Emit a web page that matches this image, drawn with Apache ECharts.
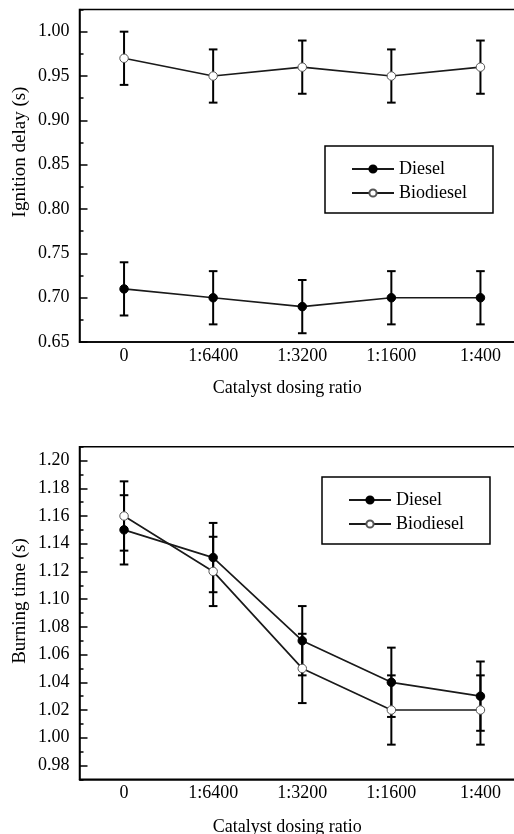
<!DOCTYPE html>
<html>
<head>
<meta charset="utf-8">
<script src="https://cdn.jsdelivr.net/npm/echarts@6/dist/echarts.min.js"></script>
<style>
  html, body { margin: 0; padding: 0; background: #fff; }
  #chart { width: 514px; height: 834px; }
</style>
</head>
<body>
<div id="chart"></div>
<script>
// x categories shared by both panels
const categories = ['0', '1:6400', '1:3200', '1:1600', '1:400']

// ignition delay (s), error = +/- half range
const dieselDelay = [0.71, 0.70, 0.69, 0.70, 0.70]
const dieselDelayErr = [0.03, 0.03, 0.03, 0.03, 0.03]
const biodieselDelay = [0.97, 0.95, 0.96, 0.95, 0.96]
const biodieselDelayErr = [0.03, 0.03, 0.03, 0.03, 0.03]

// burning time (s)
const dieselBurn = [1.15, 1.13, 1.07, 1.04, 1.03]
const dieselBurnErr = [0.025, 0.025, 0.025, 0.025, 0.025]
const biodieselBurn = [1.16, 1.12, 1.05, 1.02, 1.02]
const biodieselBurnErr = [0.025, 0.025, 0.025, 0.025, 0.025]

// tick labels
const delayTicks = [0.65, 0.70, 0.75, 0.80, 0.85, 0.90, 0.95, 1.00]
const burnTicks = [0.98, 1.00, 1.02, 1.04, 1.06, 1.08, 1.10, 1.12, 1.14, 1.16, 1.18, 1.20]

const FONT = 'Liberation Serif'
const chart = echarts.init(document.getElementById('chart'))

const errData = (vals, errs) => vals.map((v, i) => [i, v - errs[i], v + errs[i]])

const renderErr = (params, api) => {
    const lo = api.coord([api.value(0), api.value(1)])
    const hi = api.coord([api.value(0), api.value(2)])
    const w = 4.3
    const style = { stroke: '#000', lineWidth: 2 }
    return {
        type: 'group',
        children: [
            { type: 'line', shape: { x1: lo[0], y1: lo[1], x2: hi[0], y2: hi[1] }, style },
            { type: 'line', shape: { x1: hi[0] - w, y1: hi[1], x2: hi[0] + w, y2: hi[1] }, style },
            { type: 'line', shape: { x1: lo[0] - w, y1: lo[1], x2: lo[0] + w, y2: lo[1] }, style }
        ]
    }
}

const mainX = (gridIndex, margin, nameGap) => ({
    type: 'category',
    gridIndex,
    position: 'bottom',
    data: categories,
    boundaryGap: true,
    name: 'Catalyst dosing ratio',
    nameLocation: 'middle',
    nameGap,
    nameTextStyle: { fontFamily: FONT, fontSize: 18, color: '#000', padding: [0, 30, 0, 0] },
    axisLine: { lineStyle: { color: '#000', width: 1.5 } },
    axisTick: { inside: true, alignWithLabel: true, length: 8, lineStyle: { color: '#000', width: 1.5 } },
    axisLabel: { fontFamily: FONT, fontSize: 18, color: '#000', margin },
    splitLine: { show: false }
})

const minorX = (gridIndex) => ({
    type: 'category',
    gridIndex,
    position: 'bottom',
    data: categories,
    boundaryGap: true,
    axisLine: { show: false },
    axisTick: { inside: true, length: 4, lineStyle: { color: '#000', width: 1.5 } },
    axisLabel: { show: false },
    splitLine: { show: false }
})

const mainY = (gridIndex, min, max, ticks) => ({
    type: 'value',
    gridIndex,
    position: 'left',
    min, max,
    axisLine: { show: true, lineStyle: { color: '#000', width: 1.5 } },
    axisTick: { show: true, inside: true, length: 8, customValues: ticks, lineStyle: { color: '#000', width: 1.5 } },
    axisLabel: {
        fontFamily: FONT, fontSize: 18, color: '#000', margin: 10,
        customValues: ticks,
        formatter: v => v.toFixed(2)
    },
    splitLine: { show: false }
})

const minorY = (gridIndex, min, max, interval) => ({
    type: 'value',
    gridIndex,
    position: 'left',
    min, max, interval,
    axisLine: { show: false },
    axisTick: { show: true, inside: true, length: 4, lineStyle: { color: '#000', width: 1.5 } },
    axisLabel: { show: false },
    splitLine: { show: false }
})

const lineSeries = (name, data, xi, yi, filled) => ({
    type: 'line',
    name,
    xAxisIndex: xi,
    yAxisIndex: yi,
    data,
    symbol: 'circle',
    symbolSize: 8.5,
    z: 3,
    lineStyle: { color: '#1a1a1a', width: 1.7 },
    itemStyle: filled
        ? { color: '#000', borderColor: '#000', borderWidth: 1 }
        : { color: '#fff', borderColor: '#555', borderWidth: 1 },
    animation: false
})

const errSeries = (name, data, xi, yi) => ({
    type: 'custom',
    name,
    xAxisIndex: xi,
    yAxisIndex: yi,
    data,
    encode: { x: 0, y: [1, 2] },
    renderItem: renderErr,
    z: 2,
    animation: false
})

const legend = (left, top) => ({
    left, top,
    orient: 'vertical',
    data: ['Diesel', 'Biodiesel'],
    itemWidth: 42,
    itemHeight: 9,
    itemGap: 6,
    padding: [14, 26, 11, 26],
    borderColor: '#000',
    borderWidth: 1.5,
    textStyle: { fontFamily: FONT, fontSize: 18, color: '#000' }
})

const gridBox = (top) => ({
    left: 79.5, right: -11, top, height: 332.6,
    outerBoundsMode: 'none',
    show: true, borderColor: '#000', borderWidth: 1.5
})

const option = {
    backgroundColor: '#fff',
    animation: false,
    grid: [gridBox(9.5), gridBox(446.7)],
    legend: [legend(325, 146), legend(322, 477)],
    xAxis: [mainX(0, 5, 37), minorX(0), mainX(1, 5, 39), minorX(1)],
    yAxis: [
        mainY(0, 0.65, 1.025, delayTicks), minorY(0, 0.65, 1.025, 0.025),
        mainY(1, 0.97, 1.21, burnTicks), minorY(1, 0.97, 1.21, 0.01)
    ],
    graphic: [
        {
            type: 'text', x: 20, y: 152, rotation: Math.PI / 2,
            style: { text: 'Ignition delay (s)', fontFamily: FONT, fontSize: 19, fill: '#000', align: 'center', verticalAlign: 'middle' }
        },
        {
            type: 'text', x: 20, y: 601, rotation: Math.PI / 2,
            style: { text: 'Burning time (s)', fontFamily: FONT, fontSize: 19, fill: '#000', align: 'center', verticalAlign: 'middle' }
        }
    ],
    series: [
        errSeries('Diesel err', errData(dieselDelay, dieselDelayErr), 0, 0),
        errSeries('Biodiesel err', errData(biodieselDelay, biodieselDelayErr), 0, 0),
        lineSeries('Diesel', dieselDelay, 0, 0, true),
        lineSeries('Biodiesel', biodieselDelay, 0, 0, false),
        errSeries('Diesel err', errData(dieselBurn, dieselBurnErr), 2, 2),
        errSeries('Biodiesel err', errData(biodieselBurn, biodieselBurnErr), 2, 2),
        lineSeries('Diesel', dieselBurn, 2, 2, true),
        lineSeries('Biodiesel', biodieselBurn, 2, 2, false)
    ]
}

chart.setOption(option)
window.addEventListener('resize', () => chart.resize())
</script>
</body>
</html>
